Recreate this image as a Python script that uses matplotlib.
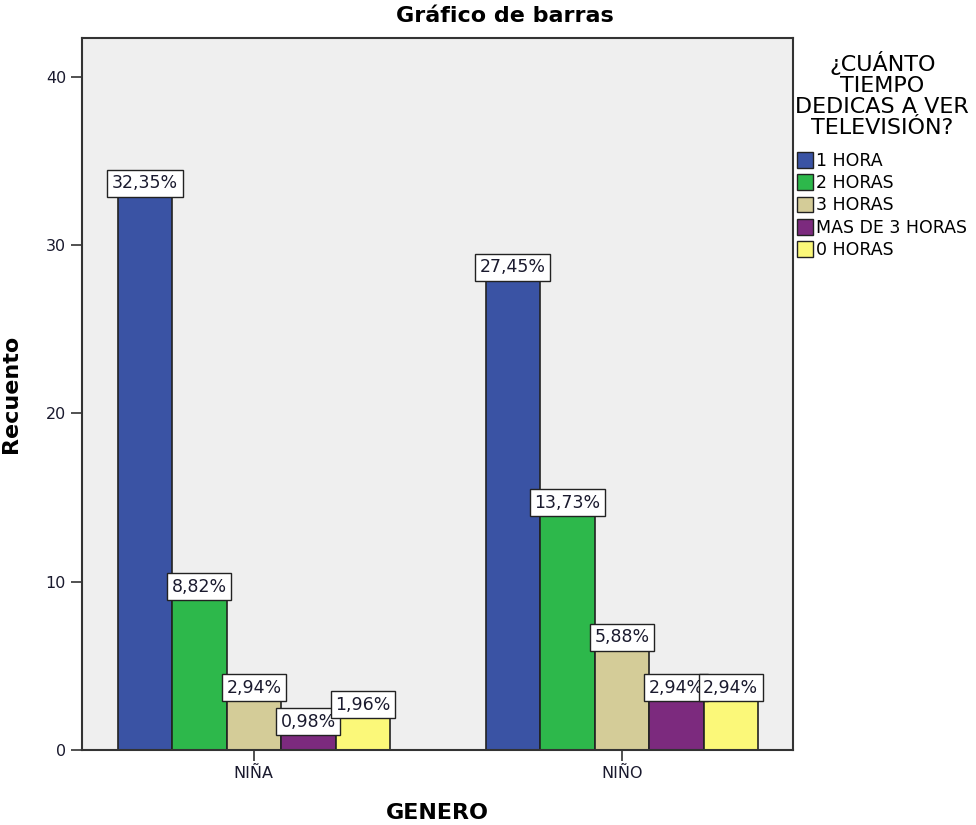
import matplotlib
matplotlib.use("Agg")
import matplotlib.pyplot as plt
import numpy as np
from matplotlib.patches import Patch

# Data
generos = ["NIÑA", "NIÑO"]
categorias = ["1 HORA", "2 HORAS", "3 HORAS", "MAS DE 3 HORAS", "0 HORAS"]
recuento_nina = [33, 9, 3, 1, 2]
recuento_nino = [28, 14, 6, 3, 3]
porcentajes_nina = ["32,35%", "8,82%", "2,94%", "0,98%", "1,96%"]
porcentajes_nino = ["27,45%", "13,73%", "5,88%", "2,94%", "2,94%"]
colores = ["#3A53A4", "#2DB84B", "#D4CC98", "#7C2A7E", "#FBF879"]

plt.rcParams["font.family"] = ["DejaVu Sans"]

fig = plt.figure(figsize=(9.76, 8.25), dpi=100)
ax = fig.add_axes([82/976, 1-750/825, (793-82)/976, (750-38)/825])
ax.set_facecolor("#EFEFEF")

w = 0.148
x = np.arange(len(generos))
valores = [recuento_nina, recuento_nino]
etiquetas = [porcentajes_nina, porcentajes_nino]
for j in range(len(categorias)):
    offs = (j - 2) * w
    alturas = [valores[g][j] for g in range(len(generos))]
    bars = ax.bar(x + offs, alturas, width=w, color=colores[j],
                  edgecolor="#222222", linewidth=1.2, zorder=2)
    for g, b in enumerate(bars):
        ax.text(b.get_x() + b.get_width()/2, b.get_height() + 0.15,
                etiquetas[g][j], ha="center", va="bottom", fontsize=12.5,
                color="#1a1a2e", zorder=4,
                bbox=dict(boxstyle="square,pad=0.26", facecolor="white",
                          edgecolor="#222222", linewidth=1.0))

ax.set_xlim(-0.467, 1.465)
ax.set_ylim(0, 42.3)
ax.set_yticks([0, 10, 20, 30, 40])
ax.set_xticks(x)
ax.set_xticklabels(generos)
ax.tick_params(axis="both", direction="out", length=8, width=1.2,
               labelsize=11.5, labelcolor="#1a1a2e", color="#333333")
for s in ax.spines.values():
    s.set_linewidth(1.5)
    s.set_color("#333333")

ax.set_ylabel("Recuento", fontsize=16, fontweight="bold", labelpad=18)
ax.set_xlabel("GENERO", fontsize=16, fontweight="bold", labelpad=16)
fig.text(505/976, 1-16/825, "Gráfico de barras", ha="center", va="center",
         fontsize=16, fontweight="bold")

handles = [Patch(facecolor=c, edgecolor="#222222", linewidth=1.0) for c in colores]
leg = fig.legend(handles, categorias,
                 title="¿CUÁNTO\nTIEMPO\nDEDICAS A VER\nTELEVISIÓN?",
                 loc="upper left", bbox_to_anchor=(792/976, 1-48/825),
                 frameon=False, fontsize=12.5, title_fontsize=16,
                 handlelength=0.9, handleheight=1.0, handletextpad=0.2,
                 labelspacing=0.25, borderaxespad=0, borderpad=0.2)
title = leg.get_title()
title.set_multialignment("center")
title.set_linespacing(1.05)
leg._legend_box.sep = 10

fig.savefig("out.png", dpi=100)
